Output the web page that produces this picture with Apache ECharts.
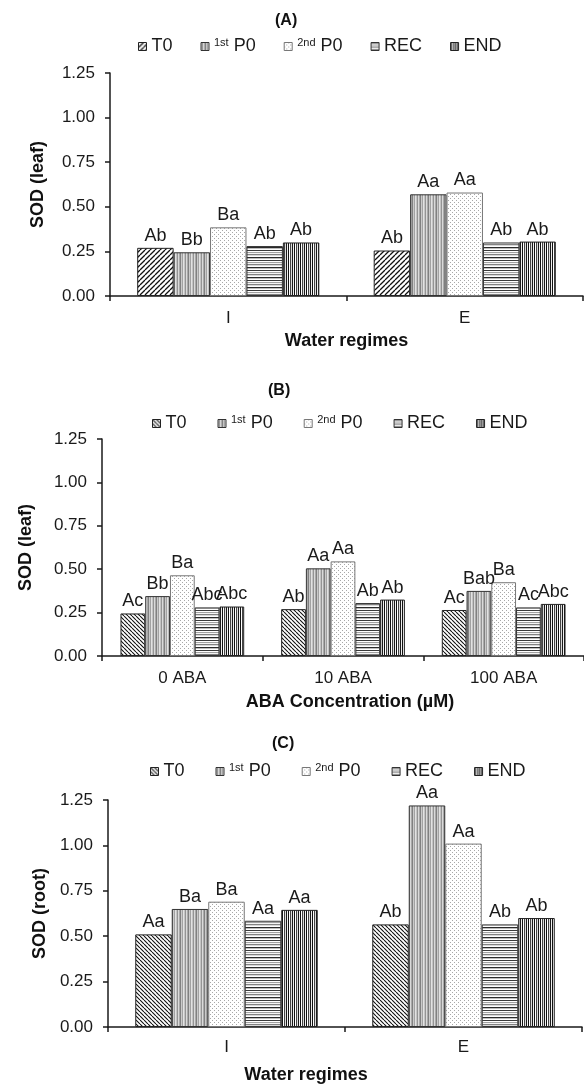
<!DOCTYPE html>
<html>
<head>
<meta charset="utf-8">
<script src="https://cdn.jsdelivr.net/npm/echarts@6/dist/echarts.min.js"></script>
<style>
html,body{margin:0;padding:0;background:#fff;}
#c{width:584px;height:1087px;}
</style>
</head>
<body>
<div id="c"></div>
<script>
// ---------- data ----------
const seriesNames = ['T0', '1st P0', '2nd P0', 'REC', 'END'];
const catsWater = ['I', 'E'];
const catsABA = ['0 ABA', '10 ABA', '100 ABA'];
const yTicks = [0, 0.25, 0.5, 0.75, 1.0, 1.25];

// (A) SOD leaf, water regimes
const aT0  = [0.27, 0.255];
const aP1  = [0.245, 0.57];
const aP2  = [0.385, 0.58];
const aREC = [0.28, 0.30];
const aEND = [0.30, 0.305];
const aLblT0  = ['Ab', 'Ab'];
const aLblP1  = ['Bb', 'Aa'];
const aLblP2  = ['Ba', 'Aa'];
const aLblREC = ['Ab', 'Ab'];
const aLblEND = ['Ab', 'Ab'];

// (B) SOD leaf, ABA concentration
const bT0  = [0.245, 0.27, 0.265];
const bP1  = [0.345, 0.505, 0.375];
const bP2  = [0.465, 0.545, 0.425];
const bREC = [0.28, 0.305, 0.28];
const bEND = [0.285, 0.325, 0.30];
const bLblT0  = ['Ac', 'Ab', 'Ac'];
const bLblP1  = ['Bb', 'Aa', 'Bab'];
const bLblP2  = ['Ba', 'Aa', 'Ba'];
const bLblREC = ['Abc', 'Ab', 'Ac'];
const bLblEND = ['Abc', 'Ab', 'Abc'];

// (C) SOD root, water regimes
const cT0  = [0.51, 0.565];
const cP1  = [0.65, 1.22];
const cP2  = [0.69, 1.01];
const cREC = [0.585, 0.565];
const cEND = [0.645, 0.60];
const cLblT0  = ['Aa', 'Ab'];
const cLblP1  = ['Ba', 'Aa'];
const cLblP2  = ['Ba', 'Aa'];
const cLblREC = ['Aa', 'Ab'];
const cLblEND = ['Aa', 'Ab'];

// ---------- patterns ----------
function mk(w, h, draw) {
  const cv = document.createElement('canvas');
  cv.width = w; cv.height = h;
  const ctx = cv.getContext('2d');
  ctx.fillStyle = '#fff'; ctx.fillRect(0, 0, w, h);
  draw(ctx, w, h);
  return { image: cv, repeat: 'repeat' };
}
function diag(p, lw, forward) {
  return mk(p, p, (ctx, w, h) => {
    ctx.strokeStyle = '#111'; ctx.lineWidth = lw;
    ctx.beginPath();
    for (let k = -1; k <= 1; k++) {
      if (forward) { ctx.moveTo(k * p, p); ctx.lineTo(k * p + p, 0); }
      else { ctx.moveTo(k * p, 0); ctx.lineTo(k * p + p, p); }
    }
    ctx.stroke();
  });
}
function cols(arr) {
  return mk(arr.length, 2, (ctx) => { arr.forEach((c, i) => { ctx.fillStyle = c; ctx.fillRect(i, 0, 1, 2); }); });
}
function rows(arr) {
  return mk(2, arr.length, (ctx) => { arr.forEach((c, i) => { ctx.fillStyle = c; ctx.fillRect(0, i, 2, 1); }); });
}
const patT0A = diag(5, 1.3, true);
const patT0B = diag(4, 1.1, false);
const patP1 = cols(['#c4c4c4', '#949494', '#dadada', '#aaaaaa', '#808080', '#cacaca', '#a2a2a2', '#e2e2e2']);
const patP2 = mk(4, 4, (ctx) => { ctx.fillStyle = '#a8a8a8'; ctx.fillRect(0, 0, 1, 1); ctx.fillRect(2, 2, 1, 1); });
const patREC = rows(['#3a3a3a', '#fff', '#a0a0a0', '#f4f4f4', '#828282', '#d8d8d8', '#fff', '#2a2a2a', '#bebebe', '#fff']);
const patEND = cols(['#111', '#fff', '#444', '#dcdcdc', '#1a1a1a', '#f0f0f0']);

// ---------- chart ----------
const FONT = 'Liberation Sans, Arial, sans-serif';
const grids = [
  { left: 110, width: 473, top: 73, height: 223 },
  { left: 102, width: 487, top: 439, height: 217 },
  { left: 108, width: 474, top: 800, height: 227 }
];
const panels = [
  { cats: catsWater, vals: [aT0, aP1, aP2, aREC, aEND], lbls: [aLblT0, aLblP1, aLblP2, aLblREC, aLblEND],
    t0: patT0A, yName: 'SOD (leaf)', xName: 'Water regimes', yGap: 63, xGap: 36, xMargin: 14, xPad: [0, 0, 0, 0] },
  { cats: catsABA, vals: [bT0, bP1, bP2, bREC, bEND], lbls: [bLblT0, bLblP1, bLblP2, bLblREC, bLblEND],
    t0: patT0B, yName: 'SOD (leaf)', xName: 'ABA Concentration (\u00b5M)', yGap: 67, xGap: 37, xMargin: 14, xPad: [0, 0, 0, 14] },
  { cats: catsWater, vals: [cT0, cP1, cP2, cREC, cEND], lbls: [cLblT0, cLblP1, cLblP2, cLblREC, cLblEND],
    t0: patT0B, yName: 'SOD (root)', xName: 'Water regimes', yGap: 48, xGap: 39, xMargin: 12, xPad: [0, 78, 0, 0] }
];
const pats = (t0) => [t0, patP1, patP2, patREC, patEND];
const borders = ['#222', '#333', '#777', '#333', '#222'];

const axisLineStyle = { color: '#1a1a1a', width: 1.5 };
const xAxis = [], yAxis = [], series = [], legend = [];
panels.forEach((p, gi) => {
  xAxis.push({
    type: 'category', gridIndex: gi, data: p.cats,
    axisLine: { lineStyle: axisLineStyle },
    axisTick: { show: true, length: 5, lineStyle: axisLineStyle },
    axisLabel: { fontFamily: FONT, fontSize: 17, color: '#1a1a1a', margin: p.xMargin },
    name: p.xName, nameLocation: 'middle', nameGap: p.xGap,
    nameTextStyle: { fontFamily: FONT, fontSize: 18, fontWeight: 'bold', color: '#111', padding: p.xPad }
  });
  yAxis.push({
    type: 'value', gridIndex: gi, min: yTicks[0], max: yTicks[yTicks.length - 1], interval: 0.25,
    splitLine: { show: false },
    axisLine: { show: true, lineStyle: axisLineStyle },
    axisTick: { show: true, length: 5, lineStyle: axisLineStyle },
    axisLabel: { fontFamily: FONT, fontSize: 17, color: '#1a1a1a', margin: 15, formatter: v => v.toFixed(2) },
    name: p.yName, nameLocation: 'middle', nameGap: p.yGap, nameRotate: 90,
    nameTextStyle: { fontFamily: FONT, fontSize: 18, fontWeight: 'bold', color: '#111' }
  });
  const ps = pats(p.t0);
  seriesNames.forEach((nm, si) => {
    series.push({
      type: 'bar', name: nm, xAxisIndex: gi, yAxisIndex: gi,
      data: p.vals[si],
      barGap: '0%', barCategoryGap: '23%',
      itemStyle: { color: ps[si], borderColor: borders[si], borderWidth: 1 },
      label: {
        show: true, position: 'top', distance: 3,
        fontFamily: FONT, fontSize: 18, color: '#1a1a1a',
        formatter: (d) => p.lbls[si][d.dataIndex]
      },
      emphasis: { disabled: true },
      animation: false
    });
  });
});

const legendTops = [37, 414, 762];
const legendLefts = [138, 152, 150];
const legendGaps = [28, 31, 31];
panels.forEach((p, gi) => {
  const ps = pats(p.t0);
  legend.push({
    top: legendTops[gi], left: legendLefts[gi], itemGap: legendGaps[gi], padding: 0,
    itemWidth: 8, itemHeight: 8, icon: 'rect',
    data: seriesNames.map((nm, si) => ({ name: nm, itemStyle: { color: ps[si], borderColor: borders[si], borderWidth: 1 } })),
    selectedMode: false,
    textStyle: {
      fontFamily: FONT, fontSize: 18, color: '#1a1a1a',
      rich: {
        n: { fontFamily: FONT, fontSize: 18, color: '#1a1a1a' },
        s: { fontFamily: FONT, fontSize: 11, color: '#1a1a1a', padding: [0, 0, 8, 0] }
      }
    },
    formatter: (name) => {
      if (name === '1st P0') return '{s|1st} {n|P0}';
      if (name === '2nd P0') return '{s|2nd} {n|P0}';
      return name;
    }
  });
});

const title = [
  { text: '(A)', left: 275, top: 13 },
  { text: '(B)', left: 268, top: 383 },
  { text: '(C)', left: 272, top: 736 }
].map(t => Object.assign(t, { padding: 0, textStyle: { fontFamily: FONT, fontSize: 16, fontWeight: 'bold', color: '#111' } }));

const chart = echarts.init(document.getElementById('c'), null, { renderer: 'canvas' });
chart.setOption({
  backgroundColor: '#fff',
  animation: false,
  title, legend, grid: grids, xAxis, yAxis, series
});
</script>
</body>
</html>
